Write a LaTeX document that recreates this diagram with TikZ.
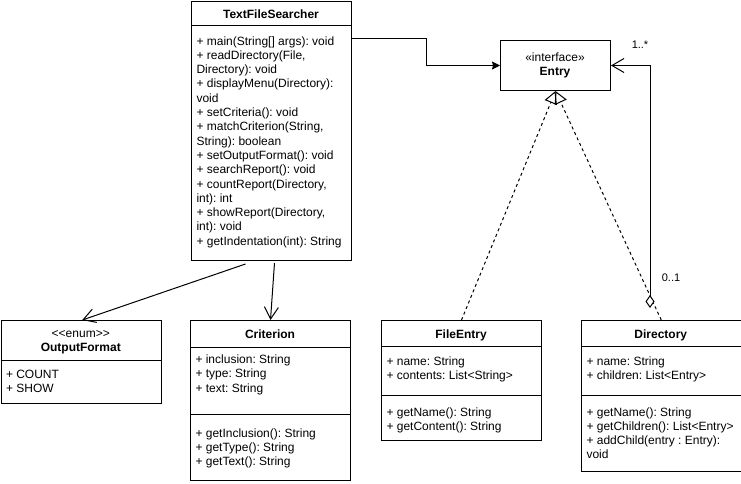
\documentclass[tikz,border=0pt]{standalone}
\usepackage{fontspec}
\setmainfont{Liberation Sans}
\frenchspacing
\usetikzlibrary{arrows.meta}
\tikzset{
  classbox/.style={draw,inner sep=0pt,anchor=north west},
  member/.style={anchor=base west,align=left,inner sep=0pt}, %base = last line
  title/.style={anchor=base,align=center,inner sep=0pt},
  mult/.style={inner sep=0pt,font=\fontsize{11}{13}\selectfont},
  assoc/.style={-{Straight Barb[length=12pt,width=14pt]}},
  navig/.style={-{Stealth[length=8pt,width=8pt,inset=1pt]}},
  realize/.style={dash pattern=on 3pt off 3pt,-{Triangle[open,length=12.5pt,width=13pt]}},
  aggr/.style={{Diamond[fill=white,length=13pt,width=9pt]}-{Straight Barb[length=12pt,width=14pt]}}
}
\begin{document}
\begin{tikzpicture}[x=1pt,y=-1pt,line width=1pt,font=\fontsize{12}{14.3}\selectfont]
	\useasboundingbox (0,0) rectangle (741,484);
	%classes
	\node[classbox,minimum width=160,minimum height=259] (tfs) at (191,1) {}; %TextFileSearcher
	\node[classbox,minimum width=110,minimum height=50] (entry) at (500,40) {}; %interface
	\node[classbox,minimum width=160.5,minimum height=83] (outfmt) at (0.5,320) {}; %enum
	\node[classbox,minimum width=160,minimum height=160] (crit) at (190,320) {};
	\node[classbox,minimum width=160,minimum height=120] (fentry) at (381,320) {};
	\node[classbox,minimum width=159.5,minimum height=151] (dir) at (581,320) {};

	%compartments
	\draw (191,26) -- (351,26);
	\draw (0.5,360) -- (161,360);
	\draw (190,347) -- (350,347);
	\draw (190,414) -- (350,414);
	\draw (381,346) -- (541,346);
	\draw (381,395) -- (541,395);
	\draw (581,346) -- (740.5,346);
	\draw (581,395) -- (740.5,395);

	%titles
	\node[title] (tfsname) at (271,19) {\textbf{TextFileSearcher}};
	\node[title] (entryname) at (555,75.8) {«interface»\\\textbf{Entry}};
	\node[title] (outfmtname) at (80.75,351.8) {<{}<enum>{}>\\\textbf{OutputFormat}};
	\node[title] (critname) at (270,338) {\textbf{Criterion}};
	\node[title] (fentryname) at (461,338) {\textbf{FileEntry}};
	\node[title] (dirname) at (660.75,338) {\textbf{Directory}};

	%members
	\node[member] (tfsops) at (196,245.2) {+ main(String[] args): void\\+ readDirectory(File,\\Directory): void\\+ displayMenu(Directory):\\void\\+ setCriteria(): void\\+ matchCriterion(String,\\String): boolean\\+ setOutputFormat(): void\\+ searchReport(): void\\+ countReport(Directory,\\int): int\\+ showReport(Directory,\\int): void\\+ getIndentation(int): String};
	\node[member] (outfmtvals) at (5.5,392.3) {+ COUNT\\+ SHOW};
	\node[member] (critattr) at (195,392.1) {+ inclusion: String\\+ type: String\\+ text: String};
	\node[member] (critops) at (195,465.6) {+ getInclusion(): String\\+ getType(): String\\+ getText(): String};
	\node[member] (fentryattr) at (386,379.3) {+ name: String\\+ contents: List<String>};
	\node[member] (fentryops) at (386,430.3) {+ getName(): String\\+ getContent(): String};
	\node[member] (dirattr) at (586,379.3) {+ name: String\\+ children: List<Entry>};
	\node[member] (dirops) at (586,458.9) {+ getName(): String\\+ getChildren(): List<Entry>\\+ addChild(entry : Entry):\\void};

	%relations
	\draw[navig] (tfs.north east) ++(0,38) -- ++(74,0) |- (entry.west);
	\draw[assoc] ([shift={(-26,3)}]tfs.south) -- ([xshift=1pt]outfmt.north);
	\draw[assoc] ([shift={(3,2)}]tfs.south) -- (crit.north);
	\draw[realize] (fentry.north) -- (entry.south);
	\draw[realize] (dir.north) -- (entry.south);
	\coordinate (aggend) at (650,308); %diamond end
	\draw[aggr] (aggend) |- (entry.east);

	%multiplicities
	\node[mult] (many) at (640,44.5) {1..*};
	\node[mult] (opt) at (671,278) {0..1};
\end{tikzpicture}
\end{document}
